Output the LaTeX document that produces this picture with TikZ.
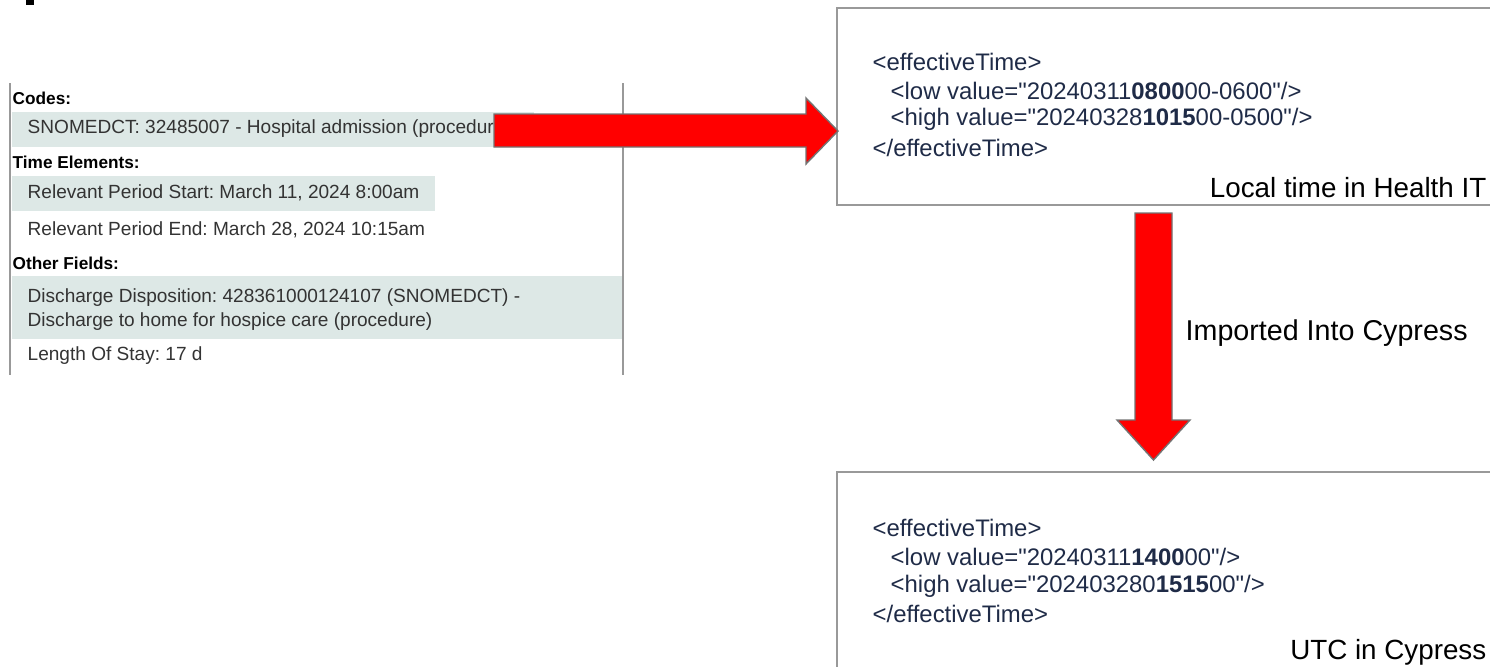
\documentclass[tikz,border=0pt]{standalone}
\usepackage{fontspec}
\setmainfont{Liberation Sans}
\newfontfamily\codefont{Liberation Sans}
\definecolor{bandfill}{HTML}{DDE8E6}
\definecolor{paneltext}{HTML}{333333}
\definecolor{codetext}{HTML}{1F2B47}
\definecolor{frame}{HTML}{999999}
\newcommand{\bd}[1]{\textbf{#1}}
\frenchspacing
\begin{document}
\begin{tikzpicture}[
          x=0.01cm, y=-0.01cm,
          panel/.style={anchor=west, inner sep=0pt, text=paneltext, font=\fontsize{5.42}{6.5}\selectfont},
          heading/.style={panel, text=black, font=\fontsize{4.9}{6}\selectfont\bfseries},
          band/.style={fill=bandfill, draw=none},
          codebox/.style={draw=frame, line width=0.5pt},
          code/.style={anchor=west, inner sep=0pt, text=codetext, font=\codefont\fontsize{6.8}{8}\selectfont},
          caption/.style={anchor=east, inner sep=0pt, font=\fontsize{7.9}{9}\selectfont},
          redarrow/.style={fill=red, draw=gray!90!black, line width=0.4pt}
        ]
        \useasboundingbox (0,0) rectangle (1490,666);

        % Corner mark
        \fill[black] (26,0) rectangle (34,5);

        % Left panel (record view)
        \fill[band] (12,112) rectangle (534,147);
        \fill[band] (12,176) rectangle (435,211);
        \fill[band] (12,276) rectangle (623,339);
        \draw[frame] (10,83) -- (10,375);
        \draw[frame] (623,83) -- (623,375);

        \node[heading] (codes) at (12,98) {Codes:};
        \node[panel] (snomed) at (27,129) {SNOMEDCT: 32485007 - Hospital admission (procedure)};
        \node[heading] (timeel) at (12,162) {Time Elements:};
        \node[panel] (start) at (27,193) {Relevant Period Start: March 11, 2024 8:00am};
        \node[panel] (end) at (27,230) {Relevant Period End: March 28, 2024 10:15am};
        \node[heading] (other) at (12,263) {Other Fields:};
        \node[panel] (disch1) at (27,298) {Discharge Disposition: 428361000124107 (SNOMEDCT) -};
        \node[panel] (disch2) at (27,322) {Discharge to home for hospice care (procedure)};
        \node[panel] (stay) at (27,356) {Length Of Stay: 17 d};

        % Top box (Health IT)
        \draw[codebox] (837,8) rectangle (1500,205);
        \node[code] (topopen) at (872,62) {<effectiveTime>};
        \node[code] (toplow) at (890,91) {<low value="20240311\bd{0800}00-0600"/>};
        \node[code] (tophigh) at (890,119) {<high value="20240328\bd{1015}00-0500"/>};
        \node[code] (topclose) at (872,148) {</effectiveTime>};
        \node[caption] (local) at (1487,188) {Local time in Health IT};

        % Bottom box (Cypress)
        \draw[codebox] (837,472) rectangle (1500,690);
        \node[code] (botopen) at (872,528) {<effectiveTime>};
        \node[code] (botlow) at (890,557) {<low value="20240311\bd{1400}00"/>};
        \node[code] (bothigh) at (890,586) {<high value="202403280\bd{1515}00"/>};
        \node[code] (botclose) at (872,614) {</effectiveTime>};
        \node[caption] (utc) at (1487,652) {UTC in Cypress};

        % Block arrows
        \draw[redarrow] (494,114) -- (806,114) -- (806,98) -- (838,131) -- (806,164) -- (806,147) -- (494,147) -- cycle;
        \draw[redarrow] (1135,213) -- (1172,213) -- (1172,420) -- (1190,420) -- (1153.5,460) -- (1117,420) -- (1135,420) -- cycle;
        \node[caption, anchor=west, font=\fontsize{8.15}{9}\selectfont] (import) at (1185,333) {Imported Into Cypress};

      \end{tikzpicture}
\end{document}
